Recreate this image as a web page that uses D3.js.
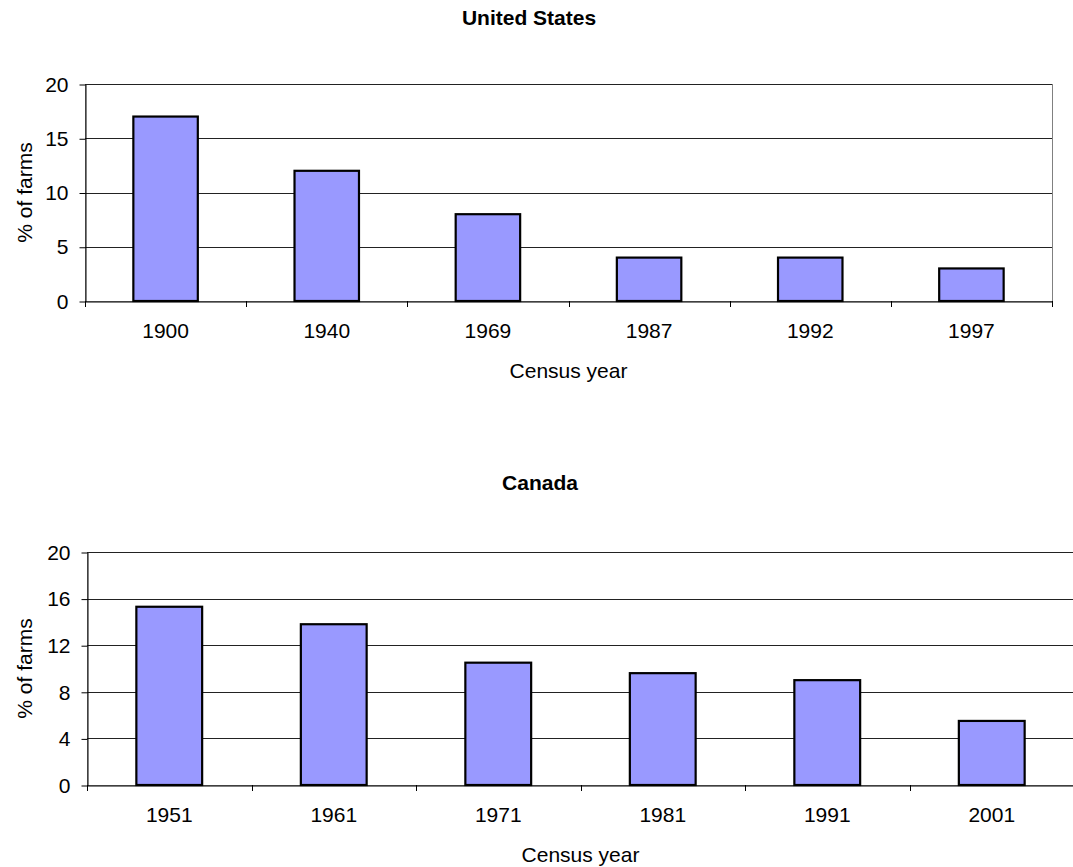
<!DOCTYPE html>
<html>
<head>
<meta charset="utf-8">
<script src="https://cdn.jsdelivr.net/npm/d3@7"></script>
<style>
  body { margin: 0; background: #fff; }
  svg { display: block; }
  text { font-family: "Liberation Sans", Arial, sans-serif; fill: #000; }
</style>
</head>
<body>
<script>
// data
const usYears = ["1900", "1940", "1969", "1987", "1992", "1997"];
const usValues = [17, 12, 8, 4, 4, 3];
const usTicks = [0, 5, 10, 15, 20];

const caYears = ["1951", "1961", "1971", "1981", "1991", "2001"];
const caValues = [15.3, 13.8, 10.5, 9.6, 9.0, 5.5];
const caTicks = [0, 4, 8, 12, 16, 20];

const svg = d3.select("body").append("svg")
  .attr("width", 1073)
  .attr("height", 867);

function drawChart(o) {
  const x = d3.scaleBand().domain(o.years).range([o.left, o.right]);
  const y = d3.scaleLinear().domain([0, 20]).range([o.bottom, o.top]);
  const g = svg.append("g");

  g.append("text")
    .attr("x", o.titleX)
    .attr("y", o.titleY)
    .attr("text-anchor", "middle")
    .style("font-size", "21px")
    .style("font-weight", "bold")
    .text(o.title);

  // plot area border
  g.append("rect")
    .attr("x", o.left + 0.5)
    .attr("y", y(20) + 0.5)
    .attr("width", o.right - o.left)
    .attr("height", o.bottom - y(20))
    .attr("fill", "none")
    .attr("stroke", "#808080");

  // gridlines
  g.selectAll(".grid")
    .data(o.ticks.filter(d => d > 0))
    .enter()
    .append("line")
    .attr("x1", o.left)
    .attr("x2", o.right)
    .attr("y1", d => Math.round(y(d)) + 0.5)
    .attr("y2", d => Math.round(y(d)) + 0.5)
    .attr("stroke", "#222");

  // bars, 150% gap width
  const bw = x.bandwidth() / 2.5;
  g.selectAll(".bar")
    .data(o.values)
    .enter()
    .append("rect")
    .attr("class", "bar")
    .attr("x", (d, i) => x(o.years[i]) + (x.bandwidth() - bw) / 2)
    .attr("y", d => y(d))
    .attr("width", bw)
    .attr("height", d => y(0) - y(d))
    .attr("fill", "#9999ff")
    .attr("stroke", "#000")
    .attr("stroke-width", 2.2);

  // y axis
  const yAxis = d3.axisLeft(y).tickValues(o.ticks).tickSize(6).tickPadding(11).tickSizeOuter(0);
  const ya = g.append("g")
    .attr("transform", `translate(${Math.round(o.left) + 0.5},0.5)`)
    .call(yAxis);
  ya.selectAll("text").style("font-size", "21px");
  ya.selectAll("line, path").attr("stroke", "#000");

  // x axis labels
  const xAxis = d3.axisBottom(x).tickSize(0).tickPadding(22).tickSizeOuter(0);
  const xa = g.append("g")
    .attr("transform", `translate(0,${Math.round(o.bottom) + 0.5})`)
    .call(xAxis);
  xa.selectAll("text").style("font-size", "21px");
  xa.select("path").attr("stroke", "#000");

  // category boundary ticks
  const edges = o.years.map(d => x(d)).concat([x.range()[1]]);
  g.selectAll(".edge")
    .data(edges)
    .enter()
    .append("line")
    .attr("x1", d => Math.round(d) + 0.5)
    .attr("x2", d => Math.round(d) + 0.5)
    .attr("y1", o.bottom)
    .attr("y2", o.bottom + 6)
    .attr("stroke", "#000");

  g.append("text")
    .attr("x", (o.left + o.right) / 2)
    .attr("y", o.bottom + 77)
    .attr("text-anchor", "middle")
    .style("font-size", "21px")
    .text("Census year");

  g.append("text")
    .attr("transform", `translate(25,${(o.top + o.bottom) / 2}) rotate(-90)`)
    .attr("text-anchor", "middle")
    .attr("dy", "0.35em")
    .style("font-size", "21px")
    .text("% of farms");
}

drawChart({
  title: "United States", titleX: 529, titleY: 25,
  years: usYears, values: usValues, ticks: usTicks,
  left: 85, right: 1052, top: 84, bottom: 301
});

drawChart({
  title: "Canada", titleX: 540, titleY: 490,
  years: caYears, values: caValues, ticks: caTicks,
  left: 87, right: 1074, top: 552, bottom: 785
});
</script>
</body>
</html>
